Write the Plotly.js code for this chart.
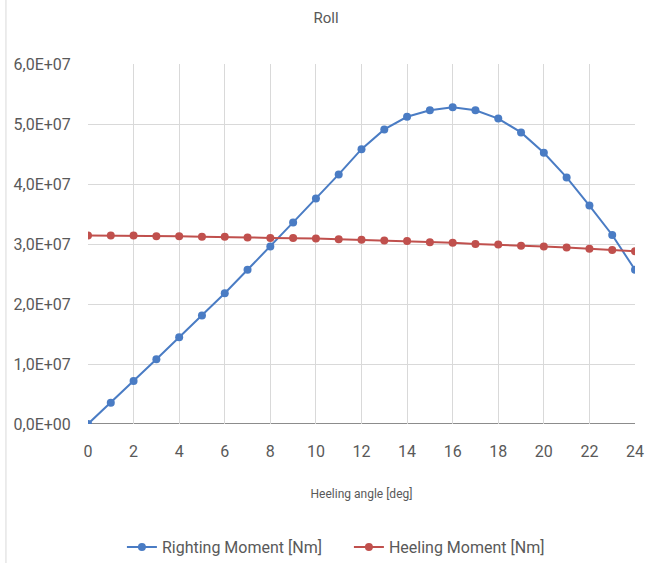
<!DOCTYPE html>
<html>
<head>
<meta charset="utf-8">
<script src="https://cdn.plot.ly/plotly-3.0.1.min.js"></script>
<style>
html,body{margin:0;padding:0;background:#fff;}
#chart{width:652px;height:563px;}
</style>
</head>
<body>
<div id="chart"></div>
<script>
const angles = [0,1,2,3,4,5,6,7,8,9,10,11,12,13,14,15,16,17,18,19,20,21,22,23,24];
const rightingMoment = [0, 3.55e6, 7.17e6, 1.08e7, 1.445e7, 1.81e7, 2.18e7, 2.57e7, 2.96e7, 3.36e7, 3.76e7, 4.16e7, 4.58e7, 4.91e7, 5.12e7, 5.23e7, 5.28e7, 5.23e7, 5.09e7, 4.86e7, 4.52e7, 4.11e7, 3.64e7, 3.15e7, 2.57e7];
const heelingMoment = [3.14e7, 3.14e7, 3.14e7, 3.13e7, 3.13e7, 3.12e7, 3.12e7, 3.11e7, 3.10e7, 3.10e7, 3.09e7, 3.08e7, 3.07e7, 3.06e7, 3.05e7, 3.03e7, 3.02e7, 3.00e7, 2.99e7, 2.97e7, 2.96e7, 2.94e7, 2.92e7, 2.90e7, 2.88e7];
const yTickVals = [0, 1e7, 2e7, 3e7, 4e7, 5e7, 6e7];
const yTickText = ["0,0E+00","1,0E+07","2,0E+07","3,0E+07","4,0E+07","5,0E+07","6,0E+07"];
const xTickVals = [0,2,4,6,8,10,12,14,16,18,20,22,24];

const FONT = "Roboto, Open Sans, sans-serif";
const traces = [
  {x: angles, y: rightingMoment, name: "Righting Moment [Nm]", type: "scatter", mode: "lines+markers",
   line: {color: "#4a7cc4", width: 2}, marker: {color: "#4a7cc4", size: 8}},
  {x: angles, y: heelingMoment, name: "Heeling Moment [Nm]", type: "scatter", mode: "lines+markers",
   line: {color: "#c0504d", width: 2}, marker: {color: "#c0504d", size: 8}}
];
const layout = {
  width: 652, height: 563,
  paper_bgcolor: "#fff", plot_bgcolor: "#fff",
  margin: {l: 88, r: 17, t: 64, b: 139, autoexpand: false},
  font: {family: FONT, color: "#595959", size: 14},
  title: {text: "Roll", x: 0.5, xref: "container", xanchor: "center", y: 0.968, yref: "container", yanchor: "middle",
          font: {family: FONT, size: 15, color: "#595959"}},
  xaxis: {range: [0, 24], tickvals: xTickVals, showgrid: true, gridcolor: "#d9d9d9", gridwidth: 1,
          zeroline: false, showline: false, ticks: "outside", ticklen: 13, tickcolor: "rgba(0,0,0,0)",
          automargin: false,
          tickfont: {family: FONT, size: 16, color: "#595959"},
          title: {text: "Heeling angle [deg]", font: {family: FONT, size: 12, color: "#595959"}, standoff: 29}},
  yaxis: {range: [0, 6e7], tickvals: yTickVals, ticktext: yTickText, showgrid: true, gridcolor: "#d9d9d9",
          zeroline: false, showline: false, ticks: "outside", ticklen: 13, tickcolor: "rgba(0,0,0,0)",
          automargin: false,
          tickfont: {family: FONT, size: 16, color: "#595959"}},
  showlegend: true,
  legend: {orientation: "h", x: 0.062, xanchor: "left", y: -0.342, yanchor: "middle",
           entrywidth: 182, entrywidthmode: "pixels",
           font: {family: FONT, size: 16, color: "#595959"}, itemwidth: 30, traceorder: "normal"},
  shapes: [
    {type: "line", xref: "paper", yref: "y", x0: 0, x1: 1, y0: 0, y1: 0, line: {color: "#8c8c8c", width: 2}, layer: "below"},
    {type: "line", xref: "paper", yref: "paper", x0: -0.15, x1: -0.15, y0: -0.4, y1: 1.2, line: {color: "#d9d9d9", width: 1}}
  ]
};
Plotly.newPlot("chart", traces, layout, {displayModeBar: false, staticPlot: true});
</script>
</body>
</html>
